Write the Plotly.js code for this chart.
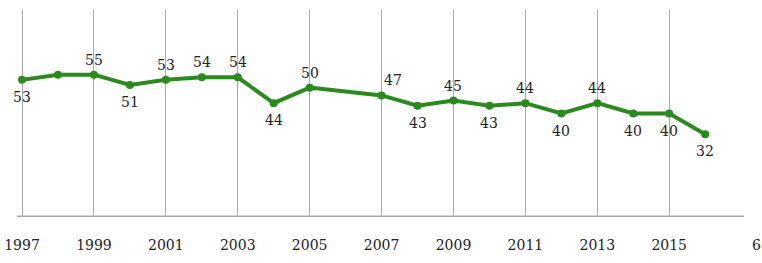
<!DOCTYPE html>
<html>
<head>
<meta charset="utf-8">
<script src="https://cdn.plot.ly/plotly-3.0.1.min.js"></script>
<style>html,body{margin:0;padding:0;background:#fff;}#chart{width:762px;height:263px;}</style>
</head>
<body>
<div id="chart"></div>
<script>
const years = [1997,1998,1999,2000,2001,2002,2003,2004,2005,2007,2008,2009,2010,2011,2012,2013,2014,2015,2016];
const values = [53,55,55,51,53,54,54,44,50,47,43,45,43,44,40,44,40,40,32];
const labels = ['53','','55','51','53','54','54','44','50','47','43','45','43','44','40','44','40','40','32'];
const labelSide = ['below','none','above','below','above','above','above','below','above','above','below','above','below','above','below','above','below','below','below'];
const tickYears = [1997,1999,2001,2003,2005,2007,2009,2011,2013,2015];
const tickText = ['1997','1999','2001','2003','2005','2007','2009','2011','2013','2015'];

const serif = 'Georgia, "DejaVu Serif", "Liberation Serif", serif';
const green = '#2b8a1e';

const annotations = [];
years.forEach((yr, i) => {
  if (!labels[i]) return;
  annotations.push({
    x: yr, y: values[i], xref: 'x', yref: 'y', text: labels[i], showarrow: false,
    xanchor: 'center', yanchor: 'middle',
    yshift: labelSide[i] === 'above' ? 15 : -17,
    xshift: labels[i] === '47' && yr === 2007 ? 11 : 0,
    font: {family: serif, size: 14, color: '#222'}
  });
});
annotations.push({text: '6', xref: 'paper', yref: 'paper', x: (757-17)/727, y: -28/207,
  xanchor: 'center', yanchor: 'middle', showarrow: false,
  font: {family: serif, size: 14, color: '#222'}});

Plotly.newPlot('chart', [{
  x: years, y: values, type: 'scatter', mode: 'lines+markers',
  line: {color: green, width: 4},
  marker: {color: green, size: 8},
  cliponaxis: false, hoverinfo: 'none'
}], {
  width: 762, height: 263,
  margin: {l: 17, r: 18, t: 10, b: 46},
  paper_bgcolor: '#fff', plot_bgcolor: '#fff',
  showlegend: false,
  xaxis: {
    range: [1996.86, 2017.08], tickvals: tickYears, ticktext: tickText,
    showgrid: true, gridcolor: '#a8a8a8', gridwidth: 1,
    showline: false, zeroline: false, ticks: '',
    ticklabelstandoff: 18,
    tickfont: {family: serif, size: 14, color: '#222'}
  },
  yaxis: {
    range: [0, 80], visible: false, showgrid: false, zeroline: false
  },
  shapes: [{type: 'line', xref: 'paper', yref: 'y', x0: 0, x1: 1, y0: 0, y1: 0,
            line: {color: '#aaa', width: 3}}],
  annotations: annotations
}, {staticPlot: true});
</script>
</body>
</html>
